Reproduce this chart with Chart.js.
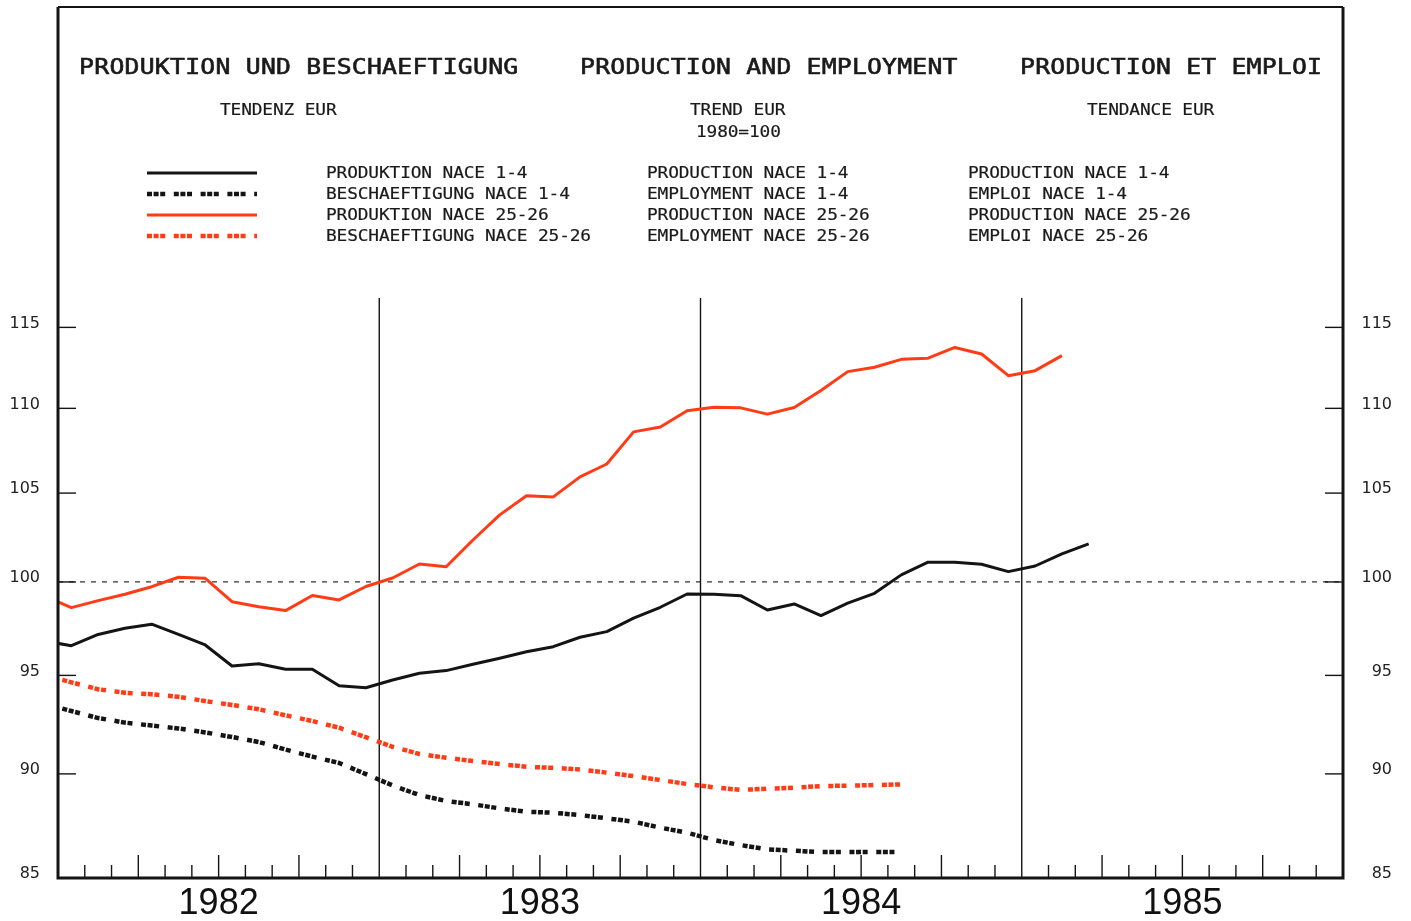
<!DOCTYPE html>
<html><head><meta charset="utf-8">
<script src="https://cdn.jsdelivr.net/npm/chart.js@4.4.1/dist/chart.umd.min.js"></script>
<style>html,body{margin:0;padding:0;background:#fff;}#wrap{width:1411px;height:921px;position:relative;}</style>
</head><body><div id="wrap"><canvas id="c"></canvas></div>
<script>
// first value of each series = Dec 1981 (month -1 relative to Jan 1982), monthly values
const startMonth = -1;
const yearLabels = ['1982', '1983', '1984', '1985'];
const yTicks = [85, 90, 95, 100, 105, 110, 115];
const prodNace14 = [96.81,
  96.56, 97.16, 97.49, 97.71, 97.16, 96.60, 95.49, 95.61, 95.32, 95.32, 94.46, 94.36,
  94.76, 95.11, 95.25, 95.58, 95.90, 96.24, 96.51, 97.01, 97.31, 98.03, 98.62, 99.34,
  99.33, 99.25, 98.47, 98.80, 98.17, 98.84, 99.38, 100.39, 101.09, 101.09, 100.98, 100.57,
  100.88, 101.55, 102.11];
const empNace14 = [93.52,
  93.16, 92.80, 92.57, 92.42, 92.27, 92.07, 91.84, 91.59, 91.21, 90.86, 90.54, 89.99,
  89.43, 88.96, 88.67, 88.51, 88.31, 88.15, 88.10, 87.99, 87.83, 87.67, 87.38, 87.14,
  86.79, 86.55, 86.35, 86.28, 86.22, 86.22, 86.22, 86.22];
const prodNace2526 = [99.23,
  98.60, 98.98, 99.33, 99.74, 100.26, 100.20, 98.92, 98.65, 98.44, 99.26, 99.02, 99.75,
  100.22, 100.99, 100.84, 102.33, 103.75, 104.85, 104.78, 105.94, 106.69, 108.59, 108.88, 109.86,
  110.06, 110.03, 109.65, 110.05, 111.08, 112.24, 112.51, 113.00, 113.07, 113.74, 113.33, 111.99,
  112.30, 113.23];
const empNace2526 = [95.02,
  94.64, 94.28, 94.10, 94.02, 93.89, 93.67, 93.47, 93.25, 92.94, 92.65, 92.31, 91.83,
  91.35, 90.99, 90.80, 90.64, 90.49, 90.35, 90.30, 90.22, 90.06, 89.89, 89.70, 89.50,
  89.34, 89.21, 89.27, 89.32, 89.40, 89.42, 89.45, 89.48];

const BLACK = '#141414';
const RED = '#ff3c16';
const DASH = [5, 1.6, 5, 1.6, 5, 8.6];

const toPts = arr => arr.map((v, i) => ({x: startMonth + i + 0.5, y: v}));

function monoText(ctx, text, x0, y, pitch, font, color, sx, strokeW) {
  ctx.font = font; ctx.fillStyle = color; ctx.strokeStyle = color; ctx.textAlign = 'center'; ctx.textBaseline = 'middle';
  ctx.lineWidth = strokeW || 0;
  for (let i = 0; i < text.length; i++) {
    ctx.save();
    ctx.translate(x0 + i * pitch + pitch / 2, y);
    ctx.scale(sx, 1);
    ctx.fillText(text[i], 0, 0);
    if (strokeW) ctx.strokeText(text[i], 0, 0);
    ctx.restore();
  }
}

const decor = {
  id: 'decor',
  beforeDraw(chart) {
    const c = chart.ctx; c.save(); c.fillStyle = '#fff'; c.fillRect(0, 0, chart.width, chart.height); c.restore();
  },
  beforeDatasetsDraw(chart) {
    const {ctx, chartArea: a, scales: {x, y}} = chart;
    const line = (x1, y1, x2, y2) => { ctx.beginPath(); ctx.moveTo(x1, y1); ctx.lineTo(x2, y2); ctx.stroke(); };
    ctx.save();
    const y100 = y.getPixelForValue(100);
    ctx.setLineDash([5, 6]); ctx.lineWidth = 1.3; ctx.strokeStyle = '#333';
    line(a.left, y100, a.right, y100);
    ctx.setLineDash([]);
    ctx.strokeStyle = BLACK; ctx.lineWidth = 1.4;
    [12, 24, 36].forEach(m => { const px = x.getPixelForValue(m); line(px, a.top, px, a.bottom); });
    yTicks.forEach(v => { const py = y.getPixelForValue(v); line(a.left, py, a.left + 18, py); line(a.right - 18, py, a.right, py); });
    for (let m = 1; m < 48; m++) {
      if (m % 12 === 0) continue;
      const px = x.getPixelForValue(m);
      line(px, a.bottom, px, a.bottom - (m % 3 === 0 ? 23 : 13));
    }
    ctx.restore();
  },
  afterDraw(chart) {
    const {ctx, chartArea: a} = chart;
    ctx.save();
    // frame
    ctx.strokeStyle = BLACK;
    ctx.lineWidth = 3;
    ctx.beginPath(); ctx.moveTo(a.left, 7); ctx.lineTo(a.left, a.bottom); ctx.lineTo(a.right, a.bottom); ctx.lineTo(a.right, 7); ctx.stroke();
    ctx.lineWidth = 2;
    ctx.beginPath(); ctx.moveTo(a.left, 7); ctx.lineTo(a.right, 7); ctx.stroke();
    // titles
    const tFont = '21px "DejaVu Sans Mono"';
    const sFont = '16.5px "DejaVu Sans Mono"';
    const col = '#1a1a1a';
    monoText(ctx, 'PRODUKTION UND BESCHAEFTIGUNG', 79, 69, 15.15, tFont, col, 1.18, 0.6);
    monoText(ctx, 'PRODUCTION AND EMPLOYMENT', 580, 69, 15.1, tFont, col, 1.18, 0.6);
    monoText(ctx, 'PRODUCTION ET EMPLOI', 1020, 69, 15.1, tFont, col, 1.18, 0.6);
    monoText(ctx, 'TENDENZ EUR', 220, 111, 10.6, sFont, col, 1.08, 0.2);
    monoText(ctx, 'TREND EUR', 690, 111, 10.6, sFont, col, 1.08, 0.2);
    monoText(ctx, '1980=100', 696, 133, 10.6, sFont, col, 1.08, 0.2);
    monoText(ctx, 'TENDANCE EUR', 1087, 111, 10.6, sFont, col, 1.08, 0.2);
    const rows = [174, 195, 216, 237];
    const c1 = ['PRODUKTION NACE 1-4', 'BESCHAEFTIGUNG NACE 1-4', 'PRODUKTION NACE 25-26', 'BESCHAEFTIGUNG NACE 25-26'];
    const c2 = ['PRODUCTION NACE 1-4', 'EMPLOYMENT NACE 1-4', 'PRODUCTION NACE 25-26', 'EMPLOYMENT NACE 25-26'];
    const c3 = ['PRODUCTION NACE 1-4', 'EMPLOI NACE 1-4', 'PRODUCTION NACE 25-26', 'EMPLOI NACE 25-26'];
    rows.forEach((ry, i) => {
      monoText(ctx, c1[i], 326, ry, 10.6, sFont, col, 1.08, 0.2);
      monoText(ctx, c2[i], 647, ry, 10.6, sFont, col, 1.08, 0.2);
      monoText(ctx, c3[i], 968, ry, 10.6, sFont, col, 1.08, 0.2);
    });
    // legend samples
    const sampleY = [173, 194, 215, 236];
    chart.data.datasets.forEach(ds => {
      ctx.strokeStyle = ds.borderColor; ctx.lineWidth = ds.borderWidth;
      ctx.setLineDash(ds.borderDash || []); ctx.lineDashOffset = 0;
      ctx.beginPath(); ctx.moveTo(147, sampleY[ds.legendRow]); ctx.lineTo(257, sampleY[ds.legendRow]); ctx.stroke();
    });
    ctx.restore();
  }
};

const yAxisCommon = {
  type: 'logarithmic', min: 85, max: 116.87, bounds: 'data',
  afterBuildTicks: s => { s.ticks = yTicks.map(v => ({value: v})); },
  grid: {display: false, drawTicks: false, tickLength: 0},
  border: {display: false},
};

new Chart(document.getElementById('c'), {
  type: 'line',
  data: {
    datasets: [
      {label: 'PRODUKTION NACE 1-4', data: toPts(prodNace14), borderColor: BLACK, borderWidth: 3, pointRadius: 0, legendRow: 0},
      {label: 'BESCHAEFTIGUNG NACE 1-4', data: toPts(empNace14), borderColor: BLACK, borderWidth: 4.5, borderDash: DASH, borderDashOffset: 8.5, borderCapStyle: 'butt', pointRadius: 0, legendRow: 1},
      {label: 'PRODUKTION NACE 25-26', data: toPts(prodNace2526), borderColor: RED, borderWidth: 3, pointRadius: 0, legendRow: 2},
      {label: 'BESCHAEFTIGUNG NACE 25-26', data: toPts(empNace2526), borderColor: RED, borderWidth: 4.5, borderDash: DASH, borderDashOffset: 8.5, borderCapStyle: 'butt', pointRadius: 0, legendRow: 3},
    ]
  },
  options: {
    responsive: true, maintainAspectRatio: false, animation: false, devicePixelRatio: 1,
    layout: {padding: {top: 298, right: 19, left: 0, bottom: 0}},
    elements: {line: {tension: 0, borderJoinStyle: 'round'}},
    plugins: {legend: {display: false}, tooltip: {enabled: false}, title: {display: false}},
    scales: {
      x: {
        type: 'linear', min: 0, max: 48, position: 'bottom',
        afterBuildTicks: s => { s.ticks = [6, 18, 30, 42].map(v => ({value: v})); },
        afterFit: s => { s.height = 43; },
        grid: {display: false, drawTicks: false, tickLength: 0},
        border: {display: false},
        ticks: {callback: v => yearLabels[Math.round((v - 6) / 12)], font: {family: 'Liberation Sans', size: 36}, color: '#111', padding: 4, maxRotation: 0, autoSkip: false}
      },
      y: Object.assign({}, yAxisCommon, {
        position: 'left',
        afterFit: s => { s.width = 58; },
        ticks: {callback: v => String(v), padding: 18, labelOffset: -4, font: {family: 'DejaVu Sans', size: 16}, color: '#222', autoSkip: false}
      }),
      y2: Object.assign({}, yAxisCommon, {
        position: 'right',
        afterFit: s => { s.width = 49; },
        ticks: {callback: v => String(v), crossAlign: 'far', padding: 10, labelOffset: -4, font: {family: 'DejaVu Sans', size: 16}, color: '#222', autoSkip: false}
      })
    }
  },
  plugins: [decor]
});
</script></body></html>
